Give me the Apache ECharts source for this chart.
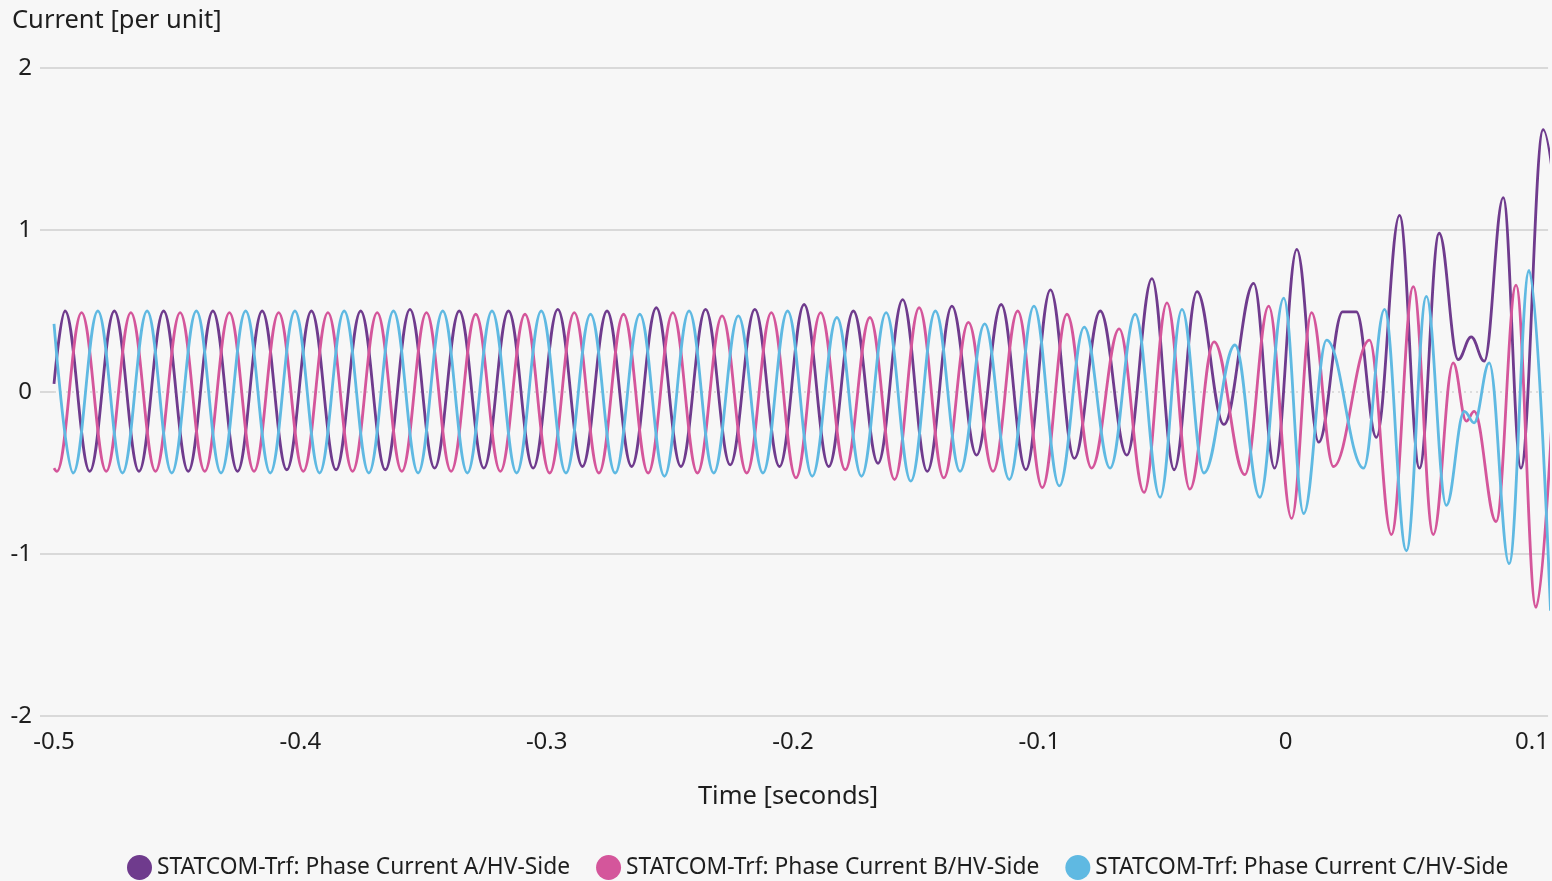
<!DOCTYPE html>
<html>
<head>
<meta charset="utf-8">
<title>STATCOM phase currents</title>
<script src="https://cdn.jsdelivr.net/npm/echarts@6/dist/echarts.min.js"></script>
<style>
  html, body { margin: 0; padding: 0; background: #f7f7f7; }
  #chart { width: 1552px; height: 881px; }
</style>
</head>
<body>
<div id="chart"></div>
<script>
// extrema: [time s, current p.u.]
const phaseA = [
  [-0.5, 0.05],
  [-0.4955, 0.50], [-0.4855, -0.49], [-0.4755, 0.50], [-0.4655, -0.49],
  [-0.4555, 0.50], [-0.4455, -0.49], [-0.4355, 0.50], [-0.4255, -0.49],
  [-0.4155, 0.50], [-0.4055, -0.48], [-0.3955, 0.50], [-0.3855, -0.48],
  [-0.3755, 0.50], [-0.3655, -0.48], [-0.3555, 0.51], [-0.3455, -0.47],
  [-0.3355, 0.50], [-0.3255, -0.47], [-0.3155, 0.50], [-0.3055, -0.47],
  [-0.2955, 0.51], [-0.2855, -0.46], [-0.2755, 0.50], [-0.2655, -0.46],
  [-0.2555, 0.52], [-0.2455, -0.46], [-0.2355, 0.51], [-0.2255, -0.45],
  [-0.2155, 0.51], [-0.2055, -0.46], [-0.1955, 0.54], [-0.1855, -0.46],
  [-0.1755, 0.50], [-0.1655, -0.44], [-0.1555, 0.57], [-0.1455, -0.49],
  [-0.1355, 0.53], [-0.1255, -0.39], [-0.1155, 0.54], [-0.1055, -0.48],
  [-0.0955, 0.63], [-0.0858, -0.41], [-0.0753, 0.50], [-0.0645, -0.39],
  [-0.0543, 0.70], [-0.0453, -0.48], [-0.0360, 0.62], [-0.0251, -0.20],
  [-0.0130, 0.67], [-0.0045, -0.47], [0.0045, 0.88], [0.0134, -0.31],
  [0.0231, 0.495], [0.0287, 0.495], [0.0368, -0.28], [0.0462, 1.09],
  [0.0543, -0.47], [0.0623, 0.98], [0.0700, 0.20], [0.0753, 0.34],
  [0.0806, 0.19], [0.0883, 1.20], [0.0955, -0.47], [0.1045, 1.62],
  [0.118, -0.50]
];

const phaseB = [
  [-0.5, -0.47],
  [-0.4988, -0.49], [-0.4888, 0.49], [-0.4788, -0.49], [-0.4688, 0.49],
  [-0.4588, -0.49], [-0.4488, 0.49], [-0.4388, -0.49], [-0.4288, 0.49],
  [-0.4188, -0.49], [-0.4088, 0.49], [-0.3988, -0.49], [-0.3888, 0.49],
  [-0.3788, -0.49], [-0.3688, 0.49], [-0.3588, -0.49], [-0.3488, 0.49],
  [-0.3388, -0.49], [-0.3288, 0.48], [-0.3188, -0.49], [-0.3088, 0.48],
  [-0.2988, -0.50], [-0.2888, 0.49], [-0.2788, -0.50], [-0.2688, 0.48],
  [-0.2588, -0.50], [-0.2488, 0.49], [-0.2388, -0.50], [-0.2288, 0.47],
  [-0.2188, -0.50], [-0.2088, 0.49], [-0.1988, -0.53], [-0.1888, 0.49],
  [-0.1788, -0.48], [-0.1688, 0.46], [-0.1588, -0.54], [-0.1488, 0.52],
  [-0.1388, -0.53], [-0.1288, 0.43], [-0.1188, -0.49], [-0.1088, 0.50],
  [-0.0988, -0.59], [-0.0888, 0.48], [-0.0788, -0.47], [-0.0676, 0.39],
  [-0.0575, -0.62], [-0.0482, 0.55], [-0.0389, -0.60], [-0.0291, 0.31],
  [-0.0166, -0.51], [-0.0069, 0.53], [0.0024, -0.78], [0.0105, 0.49],
  [0.0194, -0.46], [0.0340, 0.32], [0.0429, -0.88], [0.0518, 0.65],
  [0.0599, -0.88], [0.0680, 0.18], [0.0733, -0.18], [0.0765, -0.12],
  [0.0854, -0.80], [0.0935, 0.66], [0.1016, -1.33], [0.110, 0.40]
];

const phaseC = [
  [-0.5, 0.42],
  [-0.4922, -0.50], [-0.4822, 0.50], [-0.4722, -0.50], [-0.4622, 0.50],
  [-0.4522, -0.50], [-0.4422, 0.50], [-0.4322, -0.50], [-0.4222, 0.50],
  [-0.4122, -0.50], [-0.4022, 0.50], [-0.3922, -0.50], [-0.3822, 0.50],
  [-0.3722, -0.50], [-0.3622, 0.50], [-0.3522, -0.50], [-0.3422, 0.50],
  [-0.3322, -0.50], [-0.3222, 0.50], [-0.3122, -0.50], [-0.3022, 0.50],
  [-0.2922, -0.50], [-0.2822, 0.48], [-0.2722, -0.50], [-0.2622, 0.48],
  [-0.2522, -0.52], [-0.2422, 0.50], [-0.2322, -0.50], [-0.2222, 0.47],
  [-0.2122, -0.50], [-0.2022, 0.50], [-0.1922, -0.52], [-0.1822, 0.46],
  [-0.1722, -0.52], [-0.1622, 0.49], [-0.1522, -0.55], [-0.1422, 0.50],
  [-0.1322, -0.49], [-0.1222, 0.42], [-0.1122, -0.54], [-0.1022, 0.53],
  [-0.0919, -0.58], [-0.0818, 0.40], [-0.0713, -0.47], [-0.0611, 0.48],
  [-0.0510, -0.65], [-0.0421, 0.51], [-0.0332, -0.50], [-0.0206, 0.29],
  [-0.0105, -0.65], [-0.0008, 0.58], [0.0073, -0.75], [0.0166, 0.32],
  [0.0316, -0.47], [0.0401, 0.51], [0.0490, -0.98], [0.0571, 0.59],
  [0.0652, -0.70], [0.0725, -0.12], [0.0765, -0.19], [0.0826, 0.18],
  [0.0907, -1.06], [0.0988, 0.75], [0.1075, -1.35]
];

const seriesNames = [
  'STATCOM-Trf: Phase Current A/HV-Side',
  'STATCOM-Trf: Phase Current B/HV-Side',
  'STATCOM-Trf: Phase Current C/HV-Side'
];
const seriesColors = ['#6f3b8d', '#d4569b', '#5fb9e2'];

const FONT = '"Noto Sans", sans-serif';
const TEXT = '#1e1e1e';
const GRID_LINE = '#cfcfcf';

const chart = echarts.init(document.getElementById('chart'), null, { renderer: 'canvas' });

function phaseSeries(i, data) {
  return {
    name: seriesNames[i],
    type: 'line',
    data: data,
    smooth: 0.38,
    smoothMonotone: 'x',
    showSymbol: false,
    z: 3,
    lineStyle: { width: 2.8, color: seriesColors[i] },
    itemStyle: { color: seriesColors[i] }
  };
}

chart.setOption({
  animation: false,
  backgroundColor: '#f7f7f7',
  textStyle: { fontFamily: FONT },
  title: {
    text: 'Current [per unit]',
    left: 12,
    top: 8,
    padding: 0,
    textStyle: { fontFamily: FONT, fontSize: 25.5, fontWeight: 'normal', color: TEXT }
  },
  grid: { left: 54, right: 0, top: 68, bottom: 165 },
  legend: {
    data: seriesNames,
    left: 127,
    top: 855,
    icon: 'circle',
    itemWidth: 25,
    itemHeight: 25,
    itemGap: 26,
    padding: 0,
    textStyle: { fontFamily: FONT, fontSize: 22.8, color: TEXT }
  },
  xAxis: {
    type: 'value',
    min: -0.5,
    max: 0.1065,
    interval: 0.1,
    name: 'Time [seconds]',
    nameLocation: 'middle',
    nameGap: 68,
    nameTextStyle: { fontFamily: FONT, fontSize: 25.5, color: TEXT, padding: [0, 26, 0, 0] },
    axisLine: { show: false, onZero: false },
    axisTick: { show: false },
    splitLine: { show: false },
    axisLabel: { fontSize: 24, color: TEXT, margin: 14, showMaxLabel: false }
  },
  yAxis: {
    type: 'value',
    min: -2,
    max: 2,
    interval: 1,
    axisLine: { show: true, onZero: false, lineStyle: { color: 'rgba(0,0,0,0)' } },
    axisTick: { show: true, length: 14, lineStyle: { color: GRID_LINE, width: 1.5 } },
    splitLine: {
      show: true,
      lineStyle: { color: [GRID_LINE, GRID_LINE, 'rgba(0,0,0,0)', GRID_LINE, GRID_LINE], width: 1.5 }
    },
    axisLabel: { fontSize: 24, color: TEXT, margin: 22 }
  },
  series: [
    {
      name: 'zero',
      type: 'line',
      data: [[-0.5, 0], [0.1065, 0]],
      showSymbol: false,
      silent: true,
      z: 1,
      lineStyle: { width: 1.2, color: '#c4c4c4', type: [2, 4] }
    },
    phaseSeries(0, phaseA),
    phaseSeries(1, phaseB),
    phaseSeries(2, phaseC)
  ]
});
</script>
</body>
</html>
